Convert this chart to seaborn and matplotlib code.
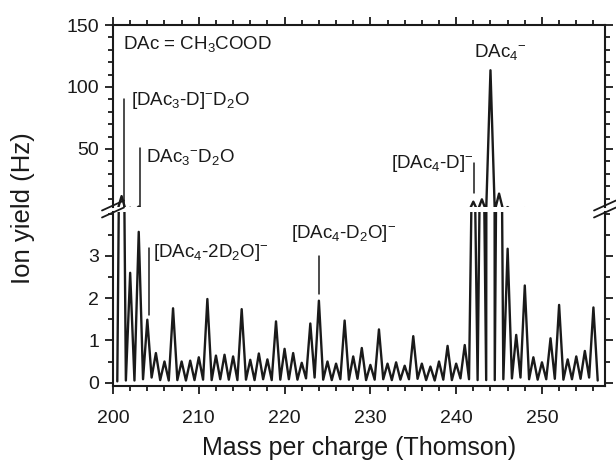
import matplotlib
matplotlib.use("Agg")
import matplotlib.pyplot as plt
import numpy as np
import pandas as pd
import seaborn as sns
from matplotlib.ticker import MultipleLocator, FixedLocator
from matplotlib.lines import Line2D

# ---------------- data ----------------
masses = list(range(201, 257))
peak_heights = [
    12.0, 2.6, 3.57, 1.49, 0.70, 0.50, 1.76, 0.50, 0.52, 0.60,   # 201-210
    1.98, 0.64, 0.66, 0.62, 1.74, 0.54, 0.69, 0.55, 1.45, 0.80,   # 211-220
    0.70, 0.47, 1.40, 1.94, 0.50, 0.45, 1.47, 0.62, 0.82, 0.42,   # 221-230
    1.26, 0.45, 0.48, 0.40, 1.10, 0.45, 0.38, 0.50, 0.87, 0.45,   # 231-240
    0.89, 7.5, 9.4, 113.5, 14.0, 3.17, 1.13, 2.30, 0.60, 0.48,    # 241-250
    1.05, 1.84, 0.55, 0.62, 0.75, 1.78,                           # 251-256
]
# baseline between peaks (at 200.5, 201.5, ..., 256.5)
valley_heights = [
    0.03, 0.05, 0.05, 0.08, 0.12, 0.06, 0.05, 0.06, 0.05, 0.06,
    0.07, 0.06, 0.08, 0.07, 0.06, 0.07, 0.06, 0.08, 0.06, 0.07,
    0.08, 0.07, 0.10, 0.12, 0.07, 0.06, 0.08, 0.07, 0.09, 0.06,
    0.07, 0.08, 0.06, 0.07, 0.08, 0.09, 0.06, 0.05, 0.07, 0.06,
    0.10, 0.08, 0.06, 0.06, 0.06, 0.08, 0.10, 0.12, 0.08, 0.07,
    0.08, 0.09, 0.07, 0.08, 0.09, 0.12, 0.05,
]
lower_major_ticks = [0, 1, 2, 3]

# build the spectrum trace: valley, peak, valley, peak, ...
xs, ys = [], []
for i, (m, h) in enumerate(zip(masses, peak_heights)):
    xs.append(m - 0.5); ys.append(valley_heights[i])
    xs.append(m);       ys.append(h)
xs.append(masses[-1] + 0.5); ys.append(valley_heights[-1])
df = pd.DataFrame({"mass": xs, "yield": ys})

# ---------------- style ----------------
sns.set_theme(style="ticks")
plt.rcParams["font.family"] = ["Liberation Sans", "DejaVu Sans"]
plt.rcParams["mathtext.fontset"] = "custom"
plt.rcParams["mathtext.rm"] = "Liberation Sans"
plt.rcParams["mathtext.it"] = "Liberation Sans:italic"
plt.rcParams["mathtext.bf"] = "Liberation Sans:bold"

INK = "#1a1a1a"
W, H = 616, 468
fig = plt.figure(figsize=(W / 100, H / 100), dpi=100)

L, R = 113, 605
top_px, gap_top, gap_bot, bot_px = 25, 207, 212, 386
ax_top = fig.add_axes([L / W, 1 - gap_top / H, (R - L) / W, (gap_top - top_px) / H])
ax_bot = fig.add_axes([L / W, 1 - bot_px / H, (R - L) / W, (bot_px - gap_bot) / H])

for ax in (ax_top, ax_bot):
    sns.lineplot(data=df, x="mass", y="yield", ax=ax, color=INK, lw=1.7,
                 estimator=None, sort=False)
    ax.set_xlim(200, 257.35)
    ax.set_xlabel("")
    ax.set_ylabel("")
    for s in ax.spines.values():
        s.set_linewidth(1.5)
        s.set_color(INK)
    ax.xaxis.set_major_locator(MultipleLocator(10))
    ax.xaxis.set_minor_locator(MultipleLocator(2))
    ax.tick_params(which="both", direction="out", color=INK, width=1.3,
                   labelsize=14, labelcolor=INK)
    ax.tick_params(which="major", length=6)
    ax.tick_params(which="minor", length=3.5)

# upper panel
ax_top.set_ylim(3.2, 150)
ax_top.yaxis.set_major_locator(MultipleLocator(50))
ax_top.yaxis.set_minor_locator(MultipleLocator(10))
ax_top.spines["bottom"].set_visible(False)
ax_top.tick_params(axis="x", which="both", bottom=False, labelbottom=False,
                   top=True, labeltop=False)
ax_top.tick_params(axis="y", which="both", left=True, right=True,
                   labelleft=True, labelright=False, pad=4)

# lower panel
ax_bot.set_ylim(-0.08, 4.04)
ax_bot.yaxis.set_major_locator(FixedLocator(lower_major_ticks))
ax_bot.yaxis.set_minor_locator(MultipleLocator(0.5))
ax_bot.spines["top"].set_visible(False)
ax_bot.tick_params(axis="x", which="both", bottom=True, top=False, labelbottom=True, pad=11)
ax_bot.tick_params(axis="y", which="both", left=True, right=True,
                   labelleft=True, labelright=False, pad=4)
ax_bot.set_xlabel("Mass per charge (Thomson)", fontsize=18, color=INK, labelpad=7)

fig.text(23 / W, 1 - 208 / H, "Ion yield (Hz)", rotation=90, fontsize=18.5,
         color=INK, ha="center", va="center")

# ---------------- annotations ----------------
ann_fs = 13.5
lw_ann = 1.1
# upper panel
ax_top.text(201.12, 130.4, "DAc = CH$_3$COOD", fontsize=ann_fs, color=INK, ha="left", va="baseline")
ax_top.plot([201.3, 201.3], [90, 3.2], color=INK, lw=lw_ann)
ax_top.text(202.05, 85.5, "[DAc$_3$-D]$^{-}$D$_2$O", fontsize=ann_fs, color=INK, ha="left", va="baseline")
ax_top.plot([203.15, 203.15], [51, 3.2], color=INK, lw=lw_ann)
ax_top.text(203.9, 39.8, "DAc$_3$$^{-}$D$_2$O", fontsize=ann_fs, color=INK, ha="left", va="baseline")
ax_top.plot([242.1, 242.1], [38.7, 14.6], color=INK, lw=lw_ann)
ax_top.text(232.36, 34.4, "[DAc$_4$-D]$^{-}$", fontsize=ann_fs, color=INK, ha="left", va="baseline")
ax_top.text(242.07, 124.4, "DAc$_4$$^{-}$", fontsize=ann_fs, color=INK, ha="left", va="baseline")
# lower panel
ax_bot.plot([204.2, 204.2], [3.18, 1.6], color=INK, lw=lw_ann)
ax_bot.text(204.7, 2.98, "[DAc$_4$-2D$_2$O]$^{-}$", fontsize=ann_fs, color=INK, ha="left", va="baseline")
ax_bot.plot([224.0, 224.0], [3.0, 2.1], color=INK, lw=lw_ann)
ax_bot.text(220.75, 3.42, "[DAc$_4$-D$_2$O]$^{-}$", fontsize=ann_fs, color=INK, ha="left", va="baseline")

# ---------------- axis-break marks ----------------
for xc in (L, R):
    for yc in (205.5, 212.5):
        fig.add_artist(Line2D([(xc - 11) / W, (xc + 11) / W],
                              [1 - (yc + 5) / H, 1 - (yc - 5) / H],
                              transform=fig.transFigure, color=INK, lw=1.3))

fig.savefig("out.png", dpi=100)
